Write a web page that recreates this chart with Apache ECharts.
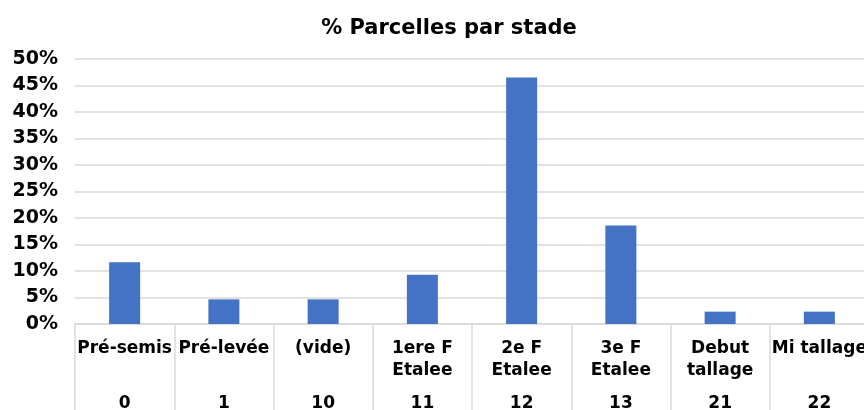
<!DOCTYPE html>
<html>
<head>
<meta charset="utf-8">
<script src="https://cdn.jsdelivr.net/npm/echarts@6/dist/echarts.min.js"></script>
<style>
  html, body { margin: 0; padding: 0; background: #fff; }
  #chart { width: 864px; height: 410px; }
</style>
</head>
<body>
<div id="chart"></div>
<script>
const stages = ['Pré-semis', 'Pré-levée', '(vide)', '1ere F\nEtalee', '2e F\nEtalee', '3e F\nEtalee', 'Debut\ntallage', 'Mi tallage'];
const stageCodes = ['0', '1', '10', '11', '12', '13', '21', '22'];
const shares = [11.63, 4.65, 4.65, 9.30, 46.51, 18.60, 2.33, 2.33];

const font = '"DejaVu Sans", Verdana, sans-serif';
const gridColor = '#d9d9d9';

const chart = echarts.init(document.getElementById('chart'));
chart.setOption({
  animation: false,
  title: {
    text: '% Parcelles par stade',
    left: 444,
    top: 13,
    textAlign: 'center',
    textStyle: { fontFamily: font, fontWeight: 'bold', fontSize: 21, color: '#000' }
  },
  grid: { left: 75, top: 59, width: 794, bottom: 86, outerBoundsMode: 'none' },
  xAxis: [
    {
      type: 'category',
      data: stages,
      position: 'bottom',
      axisLine: { lineStyle: { color: gridColor, width: 1.5 } },
      axisTick: { show: true, interval: 0, length: 90, lineStyle: { color: gridColor, width: 1.5 } },
      axisLabel: {
        interval: 0,
        margin: 14,
        fontFamily: font,
        fontWeight: 'bold',
        fontSize: 17,
        lineHeight: 22,
        color: '#000'
      }
    },
    {
      type: 'category',
      data: stageCodes,
      position: 'bottom',
      offset: 55,
      axisLine: { show: false },
      axisTick: { show: false },
      axisLabel: {
        interval: 0,
        margin: 14,
        fontFamily: font,
        fontWeight: 'bold',
        fontSize: 17,
        lineHeight: 22,
        color: '#000'
      }
    }
  ],
  yAxis: {
    type: 'value',
    min: 0,
    max: 50,
    interval: 5,
    axisLine: { show: false },
    axisTick: { show: false },
    splitLine: { lineStyle: { color: gridColor, width: 1.5 } },
    axisLabel: {
      formatter: '{value}%',
      margin: 17,
      fontFamily: font,
      fontWeight: 'bold',
      fontSize: 19,
      color: '#000'
    }
  },
  series: [
    {
      type: 'bar',
      xAxisIndex: 0,
      data: shares,
      barWidth: 31,
      itemStyle: { color: '#4472c4' }
    }
  ]
});
</script>
</body>
</html>
